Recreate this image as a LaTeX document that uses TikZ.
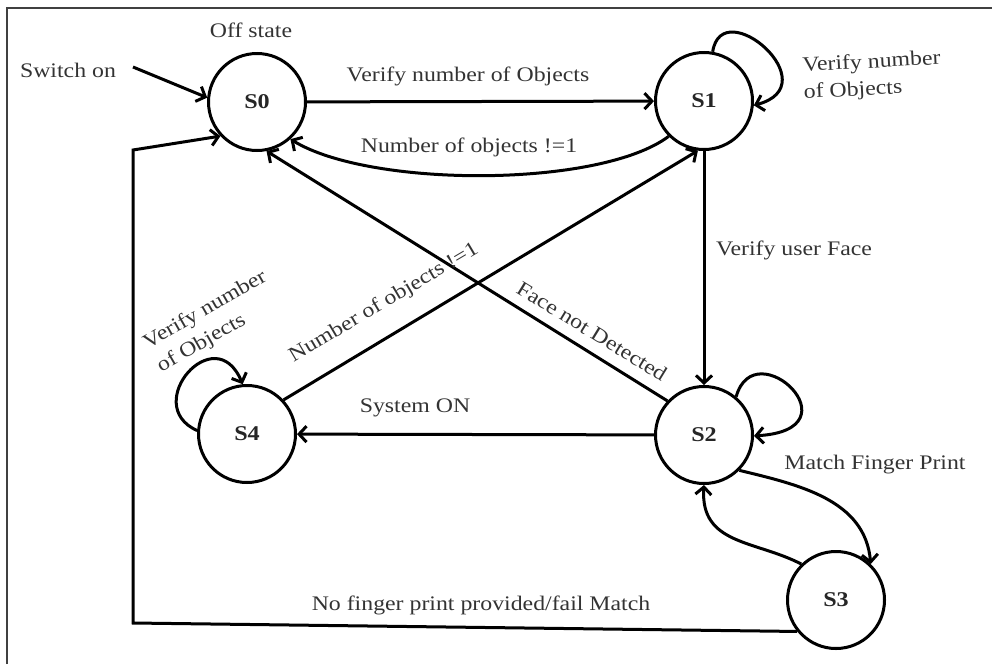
\documentclass[tikz,border=0pt]{standalone}
\usepackage{fontspec}
\setmainfont{Liberation Serif}[FakeStretch=1.15]
\usetikzlibrary{arrows.meta}
\begin{document}
\begin{tikzpicture}[x=1pt,y=-1pt,
  state/.style={circle,draw=black,line width=3pt,minimum size=97pt,inner sep=0pt,
    font=\fontsize{21}{24}\selectfont\bfseries,text=black!85},
  lbl/.style={font=\fontsize{20.7}{27}\selectfont,text=black!80,inner sep=0pt},
  edge/.style={line width=3pt,draw=black,-{Straight Barb[length=7.5pt,width=16pt]}},
  plain/.style={line width=3pt,draw=black}]
\useasboundingbox (0,0) rectangle (992,664);
\draw[black!75,line width=1.8pt] (7,664) -- (7,8) -- (992,8);

% states
\node[state] (S0) at (257,102) {S0};
\node[state] (S1) at (704,101) {S1};
\node[state] (S4) at (247,434) {S4};
\node[state] (S2) at (704,435) {S2};
\node[state] (S3) at (836,600) {S3};

% start
\coordinate (sw) at (133,67);
\node[lbl] (tsw) at (68,70) {Switch on};
\node[lbl] (toff) at (251,30) {Off state};
\draw[edge] (sw) -- (S0.175);

% S0 -> S1
\draw[edge] (S0) -- (S1);
\node[lbl] (t01) at (468,76) {Verify number of Objects};

% S1 -> S0
\draw[edge] (S1.225) .. controls (600,188) and (370,188) .. (S0.-48);
\node[lbl] (t10) at (469,147) {Number of objects !=1};

% S1 loop
\draw[edge] (S1.80) .. controls (722,-8) and (830,85) .. (S1.-5);
\node[lbl,align=left,anchor=west,rotate=3] (t11) at (803,80) {Verify number\\of Objects};

% S1 -> S2
\draw[edge] (S1) -- (S2);
\node[lbl] (t12) at (794,250) {Verify user Face};

% S2 -> S0
\draw[edge] (S2.137) -- (S0.-79);
\node[lbl,rotate=-31.5] (t20) at (592,331) {Face not Detected};

% S4 -> S1
\draw[edge] (S4.43) -- (S1.-97);
\node[lbl,rotate=30.7] (t41) at (384,303) {Number of objects !=1};

% S2 -> S4
\draw[edge] (S2) -- (S4);
\node[lbl] (t24) at (415,408) {System ON};

% S4 loop
\draw[edge] (S4.176) .. controls (140,405) and (215,318) .. (S4.95);
\node[lbl,align=left,rotate=30] (t44) at (212,322) {Verify number\\of Objects};

% S2 loop
\draw[edge] (S2.50) .. controls (755,330) and (860,430) .. (S2.-1);

% S2 -> S3
\draw[edge] (S2.-45) .. controls (800,485) and (865,500) .. (S3.46);
\node[lbl] (t23) at (875,465) {Match Finger Print};

% S3 -> S2
\draw[edge] (S3.134) .. controls (755,540) and (700,545) .. (S2.-90);

% S3 -> S0
\coordinate (c1) at (133,623);
\coordinate (c2) at (133,150);
\draw[edge] (S3.219) -- (c1) -- (c2) -- (S0.223);
\node[lbl] (t30) at (481,605) {No finger print provided/fail Match};
\end{tikzpicture}
\end{document}
